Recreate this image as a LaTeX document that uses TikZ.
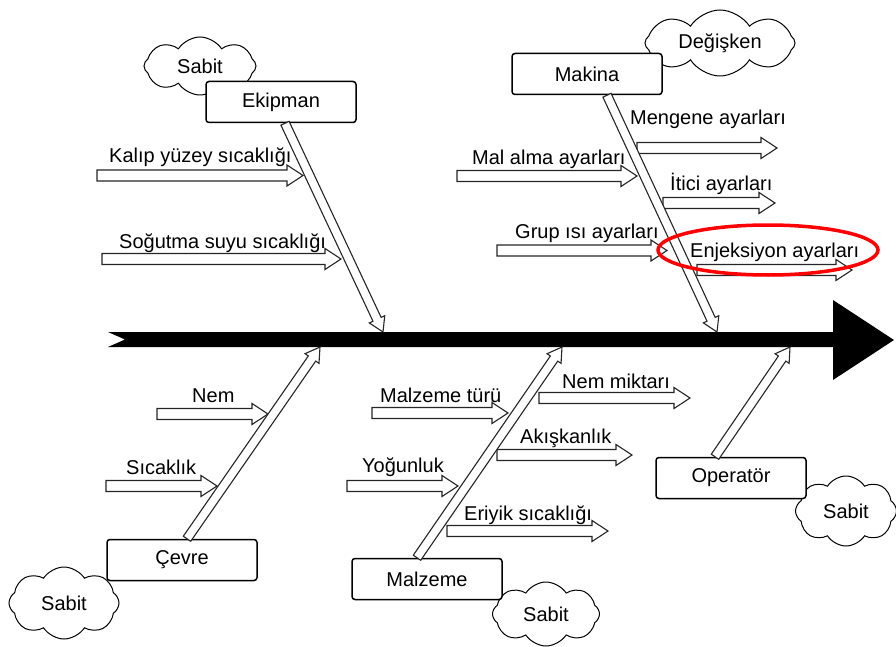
\documentclass[tikz,border=0pt]{standalone}
\usepackage{fontspec}
\setmainfont{Liberation Sans}
\usetikzlibrary{calc,positioning,shapes.symbols,shapes.geometric}

\tikzset{
  box/.style={draw, rounded corners=3pt, line width=1.5pt, fill=white, minimum width=150pt, minimum height=41pt},
  bubble/.style={cloud, cloud puffs=8, cloud puff arc=115, cloud ignores aspect, draw, line width=1pt, fill=white, inner sep=0pt},
  causetext/.style={anchor=base west, inner sep=0pt},
  arrowline/.style={draw=black!85, line width=1.1pt, fill=white, line join=miter},
}

% hollow block arrow: from, to, shaft half width, head half width, head length
\newcommand{\hollowarrow}[5]{%
  \path[arrowline] let \p1=($(#2)-(#1)$), \n1={atan2(\y1,\x1)}, \n2={veclen(\x1,\y1)} in
    [shift={(#1)}, rotate=\n1] (0,#3) -- ({\n2-#5},#3) -- ({\n2-#5},#4) -- (\n2,0)
    -- ({\n2-#5},-#4) -- ({\n2-#5},-#3) -- (0,-#3) -- cycle;}
\newcommand{\bonearrow}[2]{\hollowarrow{#1}{#2}{4.5}{8.5}{14}}
\newcommand{\causearrow}[2]{\hollowarrow{#1}{#2}{5.5}{10.5}{16}}

\begin{document}
\begin{tikzpicture}[x=1pt, y=-1pt, font=\fontsize{20}{24}\selectfont]
\useasboundingbox (0,0) rectangle (896,647);
% clouds
\node[bubble, minimum width=112pt, minimum height=58pt] (sabitEkip) at (200,66) {Sabit};
\node[bubble, minimum width=150pt, minimum height=66pt] (degisken) at (720,43) {Değişken};
\node[bubble, minimum width=110pt, minimum height=72pt] (sabitCevre) at (64,603) {Sabit};
\node[bubble, minimum width=107pt, minimum height=64pt] (sabitMalz) at (546,614) {Sabit};
\node[bubble, minimum width=101pt, minimum height=70pt] (sabitOper) at (846,511) {Sabit};
% category boxes
\node[box] (ekipman) at (281,102) {Ekipman};
\node[box] (makina) at (587,74) {Makina};
\node[box] (cevre) at (182,560) {Çevre};
\node[box] (malzeme) at (427,579) {Malzeme};
\node[box] (operator) at (731,478) {Operatör};
% main spine
\fill (108,332) -- (833,332) -- (833,300) -- (894,340) -- (833,380) -- (833,347)
  -- (108,347) -- (125,339.5) -- cycle;
\coordinate (ekipTip) at (383,332);
\coordinate (makTip) at (717,332);
\coordinate (cevreTip) at (320,347);
\coordinate (malzTip) at (562,347);
\coordinate (operTip) at (790,347);
% causes
\coordinate (kalipL) at (97,175.5);   \coordinate (kalipR) at (303,175.5);
\coordinate (sogutL) at (102,259);    \coordinate (sogutR) at (341,259);
\coordinate (malalL) at (457,176);    \coordinate (malalR) at (637,176);
\coordinate (grupL) at (497,250.5);   \coordinate (grupR) at (667,250.5);
\coordinate (mengL) at (637,148);     \coordinate (mengR) at (777,148);
\coordinate (iticiL) at (663,203);    \coordinate (iticiR) at (775,203);
\coordinate (enjL) at (697,270);      \coordinate (enjR) at (852,270);
\coordinate (nemL) at (157,414);      \coordinate (nemR) at (268,414);
\coordinate (sicL) at (106,486);      \coordinate (sicR) at (217,486);
\coordinate (turL) at (372,413);      \coordinate (turR) at (508,413);
\coordinate (yogL) at (347,486);      \coordinate (yogR) at (458,486);
\coordinate (nemmL) at (539,398);     \coordinate (nemmR) at (690,398);
\coordinate (akisL) at (497,455);     \coordinate (akisR) at (632,455);
\coordinate (eriyL) at (447,531);     \coordinate (eriyR) at (608,531);
\causearrow{kalipL}{kalipR}
\causearrow{sogutL}{sogutR}
\causearrow{malalL}{malalR}
\causearrow{grupL}{grupR}
\causearrow{mengL}{mengR}
\causearrow{iticiL}{iticiR}
\causearrow{enjL}{enjR}
\causearrow{nemL}{nemR}
\causearrow{sicL}{sicR}
\causearrow{turL}{turR}
\causearrow{yogL}{yogR}
\causearrow{nemmL}{nemmR}
\causearrow{akisL}{akisR}
\causearrow{eriyL}{eriyR}
% bones
\bonearrow{[xshift=4pt]ekipman.south}{ekipTip}
\bonearrow{[xshift=20pt]makina.south}{makTip}
\bonearrow{[xshift=5pt]cevre.north}{cevreTip}
\bonearrow{[xshift=-10pt]malzeme.north}{malzTip}
\bonearrow{[xshift=-16pt]operator.north}{operTip}
% cause labels
\node[causetext] (kalip) at (109,163) {Kalıp yüzey sıcaklığı};
\node[causetext] (sogut) at (119,248) {Soğutma suyu sıcaklığı};
\node[causetext] (malal) at (472,165) {Mal alma ayarları};
\node[causetext] (grup) at (515,238) {Grup ısı ayarları};
\node[causetext] (meng) at (630,125) {Mengene ayarları};
\node[causetext] (itici) at (670,190) {İtici ayarları};
\node[causetext] (enj) at (690,257) {Enjeksiyon ayarları};
\node[causetext] (nem) at (192,402) {Nem};
\node[causetext] (sic) at (126,474) {Sıcaklık};
\node[causetext] (tur) at (380,402) {Malzeme türü};
\node[causetext] (yog) at (362,472) {Yoğunluk};
\node[causetext] (nemm) at (562,388) {Nem miktarı};
\node[causetext] (akis) at (520,443) {Akışkanlık};
\node[causetext] (eriy) at (464,520) {Eriyik sıcaklığı};
% highlight
\node[ellipse, draw=red, line width=3.5pt, minimum width=220pt, minimum height=50pt] (vurgu) at (768,250) {};
\end{tikzpicture}
\end{document}
